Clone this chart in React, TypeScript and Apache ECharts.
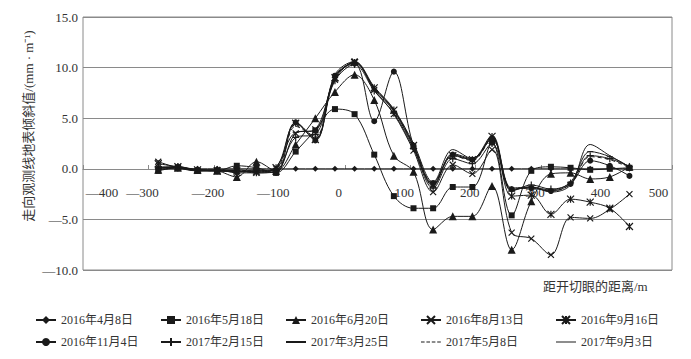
import React, { useEffect, useRef } from "react";
import * as echarts from "echarts";

const xValues = [-285, -255, -225, -195, -165, -135, -105, -75, -45, -15, 15, 45, 75, 105, 135, 165, 195, 225, 255, 285, 315, 345, 375, 405, 435];

const s20160408 = [0, 0, 0, 0, 0, 0, 0, 0, 0, 0, 0, 0, 0, 0, 0, 0, 0, 0, 0, 0, 0, 0, 0, 0, 0];
const s20160518 = [-0.2, 0.1, -0.2, -0.2, 0.3, 0.1, -0.4, 1.7, 3.8, 5.9, 5.4, 1.4, -2.7, -3.9, -3.9, -1.8, -1.8, 2.6, -4.6, -0.2, 0.2, 0.1, -0.1, 0.0, 0.1];
const s20160620 = [-0.1, 0.1, -0.1, -0.2, -0.8, 0.7, -0.2, 2.4, 5.0, 7.6, 9.3, 6.8, 1.3, -0.3, -6.0, -4.7, -4.7, -1.7, -8.0, -3.2, -0.5, -0.4, -1.0, -0.8, 0.2];
const s20160813 = [0.7, 0.1, -0.2, -0.1, -0.4, -0.4, -0.3, 3.5, 3.9, 8.8, 10.6, 7.8, 5.4, 1.8, -2.3, 0.4, -0.5, 1.9, -6.3, -6.9, -8.5, -4.8, -4.9, -4.0, -2.5];
const s20160916 = [0.5, 0.2, -0.1, -0.2, -0.2, -0.3, 0.1, 4.5, 2.9, 9.0, 10.5, 8.0, 5.8, 2.3, -1.6, 1.3, 0.9, 3.2, -2.7, -2.6, -4.5, -3.0, -3.3, -3.9, -5.7];
const s20161104 = [0.0, 0.2, -0.2, -0.2, -0.3, -0.1, -0.4, 4.6, 2.8, 9.2, 10.4, 4.7, 9.6, 2.3, -1.4, 1.4, 0.9, 3.0, -2.0, -1.9, -2.2, -1.5, 0.8, 0.3, -0.7];
const s20170215 = [0.1, 0.2, -0.1, -0.1, -0.2, -0.4, -0.2, 3.1, 3.4, 8.7, 10.3, 7.7, 5.5, 2.0, -1.9, 1.0, 0.5, 2.5, -2.2, -1.6, -2.0, -1.4, 1.3, 1.0, 0.2];
const s20170325 = [0.2, 0.1, -0.2, -0.2, -0.1, -0.3, 0.2, 3.6, 3.8, 9.0, 10.5, 7.9, 5.7, 2.2, -1.7, 1.5, 1.0, 3.1, -2.1, -1.8, -2.1, -1.3, 1.7, 1.2, 0.2];
const s20170508 = [0.1, 0.1, -0.1, -0.2, -0.2, -0.2, -0.1, 4.2, 3.2, 9.1, 10.5, 8.0, 5.8, 2.4, -1.5, 1.3, 0.8, 3.0, -2.0, -1.9, -2.2, -1.5, 1.2, 0.9, 0.1];
const s20170903 = [0.1, 0.2, -0.1, -0.2, -0.3, -0.2, 0.0, 4.6, 3.0, 9.3, 10.6, 8.1, 5.9, 2.5, -1.3, 1.9, 1.0, 3.3, -1.9, -1.8, -2.3, -1.6, 2.4, 1.3, 0.2];

const seriesNames = [
  "2016年4月8日", "2016年5月18日", "2016年6月20日", "2016年8月13日", "2016年9月16日",
  "2016年11月4日", "2017年2月15日", "2017年3月25日", "2017年5月8日", "2017年9月3日",
];
const seriesValues = [s20160408, s20160518, s20160620, s20160813, s20160916, s20161104, s20170215, s20170325, s20170508, s20170903];

const yTicks = [-10, -5, 0, 5, 10, 15];
const xTickLabels = [-400, -300, -200, -100, 0, 100, 200, 300, 400, 500];

const FONT = "'Liberation Serif', 'Noto Sans CJK SC', serif";
const INK = "#1a1a1a";
const GRID = "#8a8a8a";

const DASH_ICON =
  "path://M0,0M20,10M0,4.4L3.6,4.4L3.6,5.6L0,5.6Z M5.4,4.4L9,4.4L9,5.6L5.4,5.6Z M10.8,4.4L14.4,4.4L14.4,5.6L10.8,5.6Z M16.2,4.4L19.8,4.4L19.8,5.6L16.2,5.6Z";
const SOLID_ICON = "path://M0,0M24,10M0,4.4L24,4.4L24,5.6L0,5.6Z";

const symbols: any[] = [
  { symbol: "diamond", symbolSize: 6 },
  { symbol: "rect", symbolSize: 6 },
  { symbol: "triangle", symbolSize: 8 },
  { symbol: "path://M0,0L10,10M10,0L0,10", symbolSize: 6, stroke: true },
  { symbol: "path://M0,0L10,10M10,0L0,10M5,0L5,10", symbolSize: 7, stroke: true },
  { symbol: "circle", symbolSize: 6 },
  { symbol: "path://M5,0L5,10M0,5L10,5", symbolSize: 7, stroke: true },
  { symbol: "path://M0,0M10,10M0,4.2L10,4.2L10,5.8L0,5.8Z", symbolSize: 6 },
  { symbol: "none", symbolSize: 0, dashed: true, icon: DASH_ICON },
  { symbol: "none", symbolSize: 0, icon: SOLID_ICON },
];

function fmtNum(v: number, digits: number) {
  const t = Math.abs(v).toFixed(digits);
  return v < 0 ? "—" + t : t;
}

function legendItem(i: number) {
  const s = symbols[i];
  return s.icon ? { name: seriesNames[i], icon: s.icon } : { name: seriesNames[i] };
}

export default function App() {
  const ref = useRef<HTMLDivElement>(null);
  useEffect(() => {
    if (!ref.current) return;
    const chart = echarts.init(ref.current, undefined, { renderer: "svg" });

    const series = seriesNames.map((name, i) => {
      const s = symbols[i];
      return {
        name,
        type: "line",
        data: xValues.map((x, k) => [x, seriesValues[i][k]]),
        smooth: 0.35,
        symbol: s.symbol,
        symbolSize: s.symbolSize,
        showSymbol: s.symbol !== "none",
        lineStyle: { color: INK, width: 1, type: s.dashed ? [4, 3] : "solid" },
        itemStyle: {
          color: INK,
          borderColor: INK,
          borderWidth: s.stroke ? 1.2 : 0,
        },
        z: 2 + i,
      };
    });

    const legendCols = [30, 155, 280, 415, 550];
    const legends = legendCols.map((left, c) => ({
      left,
      top: 309,
      orient: "vertical",
      itemWidth: 20,
      itemHeight: 10,
      itemGap: 10,
      data: [legendItem(c), legendItem(c + 5)],
      textStyle: { fontFamily: FONT, fontSize: 12, color: "#333", lineHeight: 12 },
      selectedMode: false,
    }));

    chart.setOption({
      animation: false,
      backgroundColor: "#fff",
      grid: {
        left: 83,
        right: 19,
        top: 17,
        bottom: 89,
        show: true,
        borderColor: GRID,
        borderWidth: 1,
      },
      legend: legends,
      xAxis: {
        type: "value",
        min: xTickLabels[0],
        max: xTickLabels[xTickLabels.length - 1],
        interval: 100,
        offset: -101,
        axisLine: { show: true, onZero: false, lineStyle: { color: GRID, width: 1 } },
        axisTick: { show: true, inside: true, length: 4, lineStyle: { color: GRID } },
        splitLine: { show: false },
        axisLabel: {
          margin: 17,
          fontFamily: FONT,
          fontSize: 13,
          color: "#333",
          formatter: (v: number) => {
            if (xTickLabels.indexOf(v) < 0) return "";
            const t = fmtNum(v, 0);
            if (v === -400) return "{l|" + t + "}";
            if (v === 500) return "{e|" + t + "}";
            return "{n|" + t + "}";
          },
          rich: {
            n: { fontFamily: FONT, fontSize: 13, color: "#333", padding: [0, 12, 0, 0] },
            l: { fontFamily: FONT, fontSize: 13, color: "#333", padding: [0, 0, 0, 38] },
            e: { fontFamily: FONT, fontSize: 13, color: "#333", padding: [0, 27, 0, 0] },
          },
        },
      },
      yAxis: {
        type: "value",
        min: yTicks[0],
        max: yTicks[yTicks.length - 1],
        interval: 5,
        axisLine: { show: false },
        axisTick: { show: false },
        splitLine: { show: true, lineStyle: { color: GRID, width: 1 } },
        axisLabel: {
          margin: 5,
          fontFamily: FONT,
          fontSize: 13,
          color: "#333",
          formatter: (v: number) => fmtNum(v, 1),
        },
      },
      graphic: [
        {
          type: "text",
          x: 28,
          y: 126,
          rotation: Math.PI / 2,
          style: {
            text: "走向观测线地表倾斜值/(mm · m⁻¹)",
            fontFamily: FONT,
            fontSize: 13,
            fill: "#333",
            align: "center",
            verticalAlign: "middle",
          },
        },
        {
          type: "text",
          x: 543,
          y: 286,
          style: {
            text: "距开切眼的距离/m",
            fontFamily: FONT,
            fontSize: 13,
            fill: "#333",
            align: "left",
            verticalAlign: "middle",
          },
        },
      ],
      series,
    });
    return () => chart.dispose();
  }, []);
  return <div ref={ref} style={{ width: 691, height: 359, position: "absolute", left: 0, top: 0 }} />;
}
